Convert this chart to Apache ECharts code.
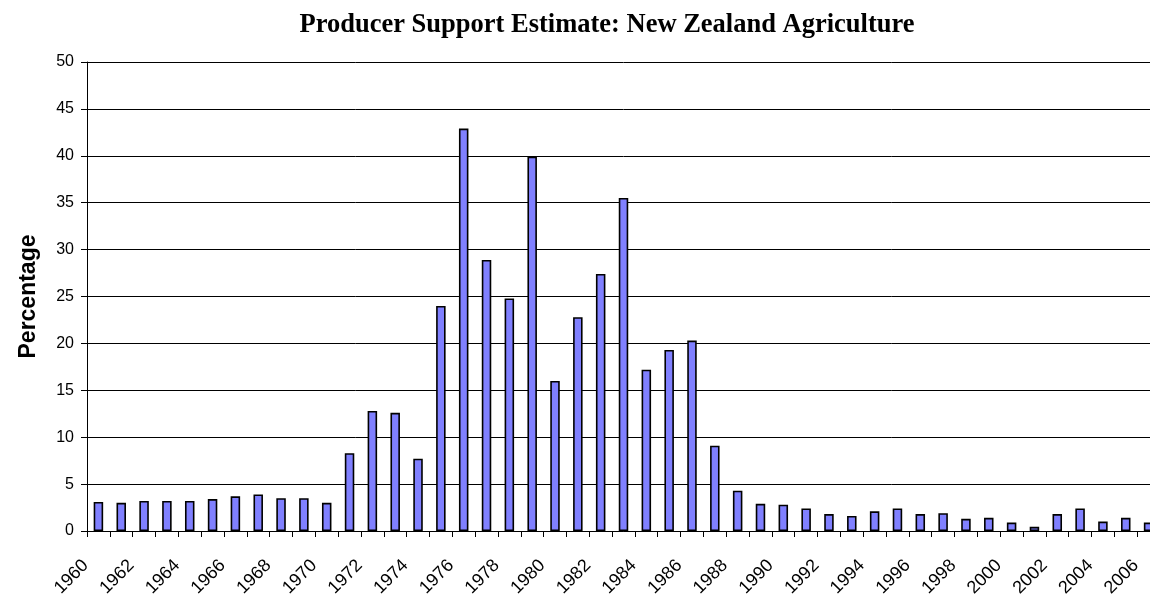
<!DOCTYPE html>
<html>
<head>
<meta charset="utf-8">
<title>Producer Support Estimate: New Zealand Agriculture</title>
<script src="https://cdn.jsdelivr.net/npm/echarts@6/dist/echarts.min.js"></script>
<style>
  html, body { margin: 0; padding: 0; background: #fff; overflow: hidden; }
  /* frame clips the plot, which runs slightly past the right edge */
  #frame { position: relative; width: 1150px; height: 594px; overflow: hidden; }
  #chart { position: absolute; left: 0; top: 0; width: 1160px; height: 594px; }
</style>
</head>
<body>
<div id="frame"><div id="chart"></div></div>
<script>
// Years on the category axis
const years = [
  '1960','1961','1962','1963','1964','1965','1966','1967','1968','1969',
  '1970','1971','1972','1973','1974','1975','1976','1977','1978','1979',
  '1980','1981','1982','1983','1984','1985','1986','1987','1988','1989',
  '1990','1991','1992','1993','1994','1995','1996','1997','1998','1999',
  '2000','2001','2002','2003','2004','2005','2006'
];

// Producer support estimate, percent of gross farm receipts
const pse = [
  3.1, 3.0, 3.2, 3.2, 3.2, 3.4, 3.7, 3.9, 3.5, 3.5,
  3.0, 8.3, 12.8, 12.6, 7.7, 24.0, 42.9, 28.9, 24.8, 39.9,
  16.0, 22.8, 27.4, 35.5, 17.2, 19.3, 20.3, 9.1, 4.3, 2.9,
  2.8, 2.4, 1.8, 1.6, 2.1, 2.4, 1.8, 1.9, 1.3, 1.4,
  0.9, 0.45, 1.8, 2.4, 1.0, 1.4, 0.9
];

// Value axis ticks
const yTicks = { min: 0, max: 50, step: 5 };

const chart = echarts.init(document.getElementById('chart'), null, { renderer: 'canvas' });

chart.setOption({
  animation: false,
  backgroundColor: '#ffffff',
  title: {
    text: 'Producer Support Estimate: New Zealand Agriculture',
    left: 602,
    top: 7,
    textAlign: 'center',
    textStyle: {
      fontFamily: 'Liberation Serif',
      fontWeight: 'bold',
      fontSize: 26.5,
      color: '#000'
    }
  },
  grid: {
    left: 87,
    right: 0,
    top: 62,
    bottom: 63,
    containLabel: false,
    // keep the plot box fixed; the rotated year labels may run off the bottom
    outerBoundsMode: 'none'
  },
  xAxis: {
    type: 'category',
    data: years,
    boundaryGap: true,
    axisLine: { show: true, onZero: false, lineStyle: { color: '#000', width: 1 } },
    axisTick: { show: true, interval: 0, length: 6, alignWithLabel: false, lineStyle: { color: '#000' } },
    axisLabel: {
      interval: 1,
      rotate: 45,
      margin: 19,
      padding: [0, 18, 0, 0],
      fontFamily: 'Liberation Sans',
      fontSize: 18,
      color: '#000'
    },
    splitLine: { show: false }
  },
  yAxis: {
    type: 'value',
    min: yTicks.min,
    max: yTicks.max,
    interval: yTicks.step,
    name: 'Percentage',
    nameLocation: 'middle',
    nameGap: 47,
    nameRotate: 90,
    nameTextStyle: {
      fontFamily: 'Liberation Sans',
      fontWeight: 'bold',
      fontSize: 23,
      color: '#000'
    },
    axisLine: { show: true, lineStyle: { color: '#000', width: 1 } },
    axisTick: { show: true, length: 6, lineStyle: { color: '#000' } },
    axisLabel: {
      margin: 13,
      fontFamily: 'Liberation Sans',
      fontSize: 16,
      color: '#000'
    },
    splitLine: { show: true, lineStyle: { color: '#000', width: 1 } }
  },
  series: [{
    type: 'bar',
    data: pse,
    barWidth: 9.5,
    itemStyle: {
      color: '#8080ff',
      borderColor: '#000',
      borderWidth: 1.6
    }
  }]
});
</script>
</body>
</html>
